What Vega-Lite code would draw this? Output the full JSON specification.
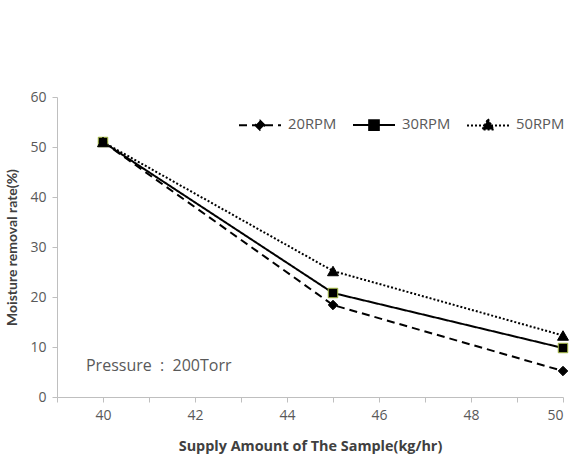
{
  "$schema": "https://vega.github.io/schema/vega-lite/v6.json",
  "width": 506,
  "height": 300,
  "autosize": {"type": "none"},
  "padding": {"left": 57, "top": 97, "right": 21, "bottom": 57},
  "background": "white",
  "config": {
    "font": "Open Sans",
    "view": {"stroke": null},
    "axis": {
      "grid": false,
      "domainColor": "#bfbfbf",
      "tickColor": "#bfbfbf",
      "labelColor": "#595959",
      "labelFontSize": 14,
      "labelFont": "Open Sans",
      "titleColor": "#404040",
      "titleFontWeight": "bold",
      "tickSize": 5
    }
  },
  "data": {
    "values": [
      {"rpm": "20RPM", "supply": 40, "rate": 51.0},
      {"rpm": "20RPM", "supply": 45, "rate": 18.4},
      {"rpm": "20RPM", "supply": 50, "rate": 5.2},
      {"rpm": "30RPM", "supply": 40, "rate": 51.0},
      {"rpm": "30RPM", "supply": 45, "rate": 20.8},
      {"rpm": "30RPM", "supply": 50, "rate": 9.8},
      {"rpm": "50RPM", "supply": 40, "rate": 51.0},
      {"rpm": "50RPM", "supply": 45, "rate": 25.2},
      {"rpm": "50RPM", "supply": 50, "rate": 12.3}
    ]
  },
  "encoding": {
    "x": {
      "field": "supply",
      "type": "quantitative",
      "scale": {"domain": [39, 50], "nice": false, "zero": false},
      "axis": {
        "title": "Supply Amount of The Sample(kg/hr)",
        "titleFont": "Open Sans",
        "titleFontSize": 14.4,
        "values": [39, 40, 41, 42, 43, 44, 45, 46, 47, 48, 49, 50],
        "labelExpr": "datum.value % 2 === 0 ? datum.label : ''",
        "labelPadding": 6,
        "titlePadding": 17
      }
    },
    "y": {
      "field": "rate",
      "type": "quantitative",
      "scale": {"domain": [0, 60], "nice": false},
      "axis": {
        "title": "Moisture removal rate(%)",
        "titleFont": "Lato",
        "titleFontSize": 14,
        "values": [0, 10, 20, 30, 40, 50, 60],
        "labelPadding": 6,
        "titlePadding": 10
      }
    }
  },
  "layer": [
    {
      "mark": {"type": "line", "color": "black", "strokeWidth": 2},
      "encoding": {
        "strokeDash": {
          "field": "rpm",
          "type": "nominal",
          "scale": {"domain": ["20RPM", "30RPM", "50RPM"], "range": [[8, 5], [1, 0], [2, 2]]},
          "legend": {
            "title": null,
            "orient": "none",
            "direction": "horizontal",
            "legendX": 181,
            "legendY": 6,
            "labelFont": "Open Sans",
            "labelFontSize": 14.8,
            "labelColor": "#595959",
            "symbolSize": 1764,
            "symbolStrokeWidth": 2,
            "symbolStrokeColor": "black",
            "columnPadding": 12,
            "labelOffset": 6,
            "encode": {
              "symbols": {
                "update": {
                  "shape": {"signal": "datum.value === '20RPM' ? 'M-1,0L1,0M0,-0.22L0.22,0L0,0.22L-0.22,0Z' : datum.value === '30RPM' ? 'M-1,0L1,0M-0.23,-0.23L0.23,-0.23L0.23,0.23L-0.23,0.23Z' : 'M-1,0L1,0M0,-0.3L0.27,0.2L-0.27,0.2Z'"},
                  "size": {"value": 1764},
                  "fill": {"value": "black"},
                  "stroke": {"value": "black"},
                  "strokeWidth": {"value": 2},
                  "strokeOpacity": {"value": 1}
                }
              }
            }
          }
        }
      }
    },
    {
      "transform": [{"filter": "datum.rpm === '20RPM'"}],
      "mark": {"type": "point", "shape": "diamond", "filled": true, "fill": "black", "stroke": "black", "strokeWidth": 1, "opacity": 1, "size": 90}
    },
    {
      "transform": [{"filter": "datum.rpm === '30RPM'"}],
      "mark": {"type": "point", "shape": "square", "filled": true, "fill": "black", "stroke": "#a8bd45", "strokeWidth": 1, "opacity": 1, "size": 90}
    },
    {
      "transform": [{"filter": "datum.rpm === '50RPM'"}],
      "mark": {"type": "point", "shape": "triangle-up", "filled": true, "fill": "black", "stroke": "black", "strokeWidth": 1, "opacity": 1, "size": 120}
    },
    {
      "data": {"values": [{"label": "Pressure\u00a0\u00a0:\u00a0\u00a0200Torr", "supply": 39.63, "rate": 6.2}]},
      "mark": {"type": "text", "align": "left", "baseline": "middle", "fontSize": 16, "color": "#595959", "font": "Open Sans"},
      "encoding": {
        "text": {"field": "label"}
      }
    }
  ]
}
